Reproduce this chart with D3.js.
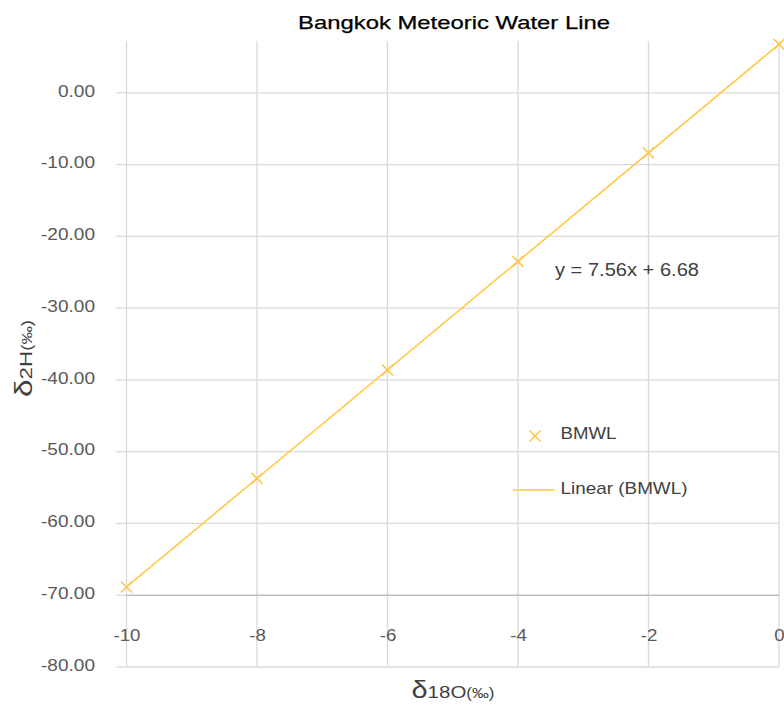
<!DOCTYPE html>
<html>
<head>
<meta charset="utf-8">
<script src="https://cdn.jsdelivr.net/npm/d3@7/dist/d3.min.js"></script>
<style>
  html, body { margin: 0; padding: 0; background: #fff; }
  svg { display: block; font-family: "Liberation Sans", Arial, sans-serif; }
</style>
</head>
<body>
<svg id="chart" width="784" height="705"></svg>
<script>
// δ18O values (x) and δ2H values (y) of the BMWL series
const d18O = [-10, -8, -6, -4, -2, 0];
const d2H = [-68.92, -53.80, -38.68, -23.56, -8.44, 6.68];
// linear trendline coefficients
const slope = [7.56];
const intercept = [6.68];
const xTicks = [-10, -8, -6, -4, -2, 0];
const yTicks = [-80, -70, -60, -50, -40, -30, -20, -10, 0];
const seriesName = "BMWL";
const trendName = "Linear (BMWL)";
const titleText = "Bangkok Meteoric Water Line";

const svg = d3.select("#chart");
const plotLeft = 126.5, plotRight = 779, plotTop = 41, plotBottom = 666.5;
const x = d3.scaleLinear().domain([-10, 0]).range([plotLeft, plotRight]);
const y = d3.scaleLinear().domain([-80, 7.15]).range([plotBottom, plotTop]);

const gridColor = "#d9d9d9";
const orange = "#ffc84a";
const textColor = "#404040";
const tickColor = "#595959";

// widen text glyphs horizontally by a factor, or to an exact width
function widen(sel, factor, width) {
  sel.each(function () {
    const w = width || this.getComputedTextLength() * factor;
    d3.select(this).attr("textLength", w).attr("lengthAdjust", "spacingAndGlyphs");
  });
}

// vertical gridlines
svg.append("g").selectAll("line").data(xTicks).join("line")
  .attr("x1", d => x(d)).attr("x2", d => x(d))
  .attr("y1", plotTop).attr("y2", plotBottom)
  .attr("stroke", gridColor).attr("stroke-width", 1.3);

// horizontal gridlines + left ticks via axis
const yAxis = d3.axisLeft(y).tickValues(yTicks)
  .tickSize(10).tickPadding(21.5)
  .tickFormat(d => d.toFixed(2));
const gy = svg.append("g").attr("transform", `translate(${plotLeft},0)`).call(yAxis);
gy.select(".domain").remove();
gy.selectAll(".tick line").attr("stroke", gridColor).attr("stroke-width", 1.3);
gy.selectAll(".tick").append("line")
  .attr("x1", 0).attr("x2", plotRight - plotLeft)
  .attr("stroke", d => d === -70 ? "#bfbfbf" : gridColor)
  .attr("stroke-width", 1.3);
gy.selectAll(".tick text")
  .attr("fill", tickColor).attr("font-size", 17)
  .attr("font-family", "Liberation Sans, Arial, sans-serif")
  .attr("dy", "0.22em");
widen(gy.selectAll(".tick text"), 1.12);

// x axis crossing at -70, labels below
const xAxis = d3.axisBottom(x).tickValues(xTicks).tickSize(0).tickPadding(34)
  .tickFormat(d => String(d));
const gx = svg.append("g").attr("transform", `translate(0,${y(-70)})`).call(xAxis);
gx.select(".domain").remove();
gx.selectAll(".tick text")
  .attr("fill", tickColor).attr("font-size", 17)
  .attr("font-family", "Liberation Sans, Arial, sans-serif");
widen(gx.selectAll(".tick text"), 1.1);

// trendline over the data range
const trend = d3.extent(d18O).map(v => [v, slope[0] * v + intercept[0]]);
svg.append("path")
  .datum(trend)
  .attr("d", d3.line().x(d => x(d[0])).y(d => y(d[1])))
  .attr("fill", "none").attr("stroke", orange).attr("stroke-width", 1.6);

// x-shaped markers
const cross = d3.symbol().type(d3.symbolX).size(80);
svg.append("g").selectAll("path").data(d18O).join("path")
  .attr("transform", (d, i) => `translate(${x(d)},${y(d2H[i])})`)
  .attr("d", cross)
  .attr("fill", "none").attr("stroke", orange).attr("stroke-width", 1.6);

// trendline equation
widen(svg.append("text")
  .attr("x", 555).attr("y", 276)
  .attr("font-size", 18).attr("fill", textColor)
  .text(`y = ${slope[0].toFixed(2)}x + ${intercept[0].toFixed(2)}`), 1, 144);

// title
widen(svg.append("text")
  .attr("x", 298).attr("y", 28.5)
  .attr("font-size", 19).attr("fill", "#000")
  .attr("stroke", "#000").attr("stroke-width", 0.25)
  .text(titleText), 1, 312);

// legend
svg.append("path")
  .attr("transform", "translate(535,436)")
  .attr("d", cross)
  .attr("fill", "none").attr("stroke", orange).attr("stroke-width", 1.6);
widen(svg.append("text").attr("x", 560.5).attr("y", 438.5)
  .attr("font-size", 17).attr("fill", textColor).text(seriesName), 1, 56);
svg.append("line").attr("x1", 513).attr("x2", 555).attr("y1", 490).attr("y2", 490)
  .attr("stroke", orange).attr("stroke-width", 1.6);
widen(svg.append("text").attr("x", 560.5).attr("y", 493.5)
  .attr("font-size", 17).attr("fill", textColor).text(trendName), 1, 127);

// axis titles
const xt = svg.append("text").attr("x", 411.5).attr("y", 698)
  .attr("fill", textColor);
xt.append("tspan").attr("font-size", 24).text("δ");
xt.append("tspan").attr("font-size", 17).text("18O");
xt.append("tspan").attr("font-size", 14).text("(‰)");
widen(xt, 1, 83);

const yt = svg.append("text")
  .attr("transform", "translate(32,397) rotate(-90)")
  .attr("fill", textColor);
yt.append("tspan").attr("font-size", 24).text("δ");
yt.append("tspan").attr("font-size", 17).text("2H");
yt.append("tspan").attr("font-size", 14).text("(‰)");
widen(yt, 1, 77);
</script>
</body>
</html>
